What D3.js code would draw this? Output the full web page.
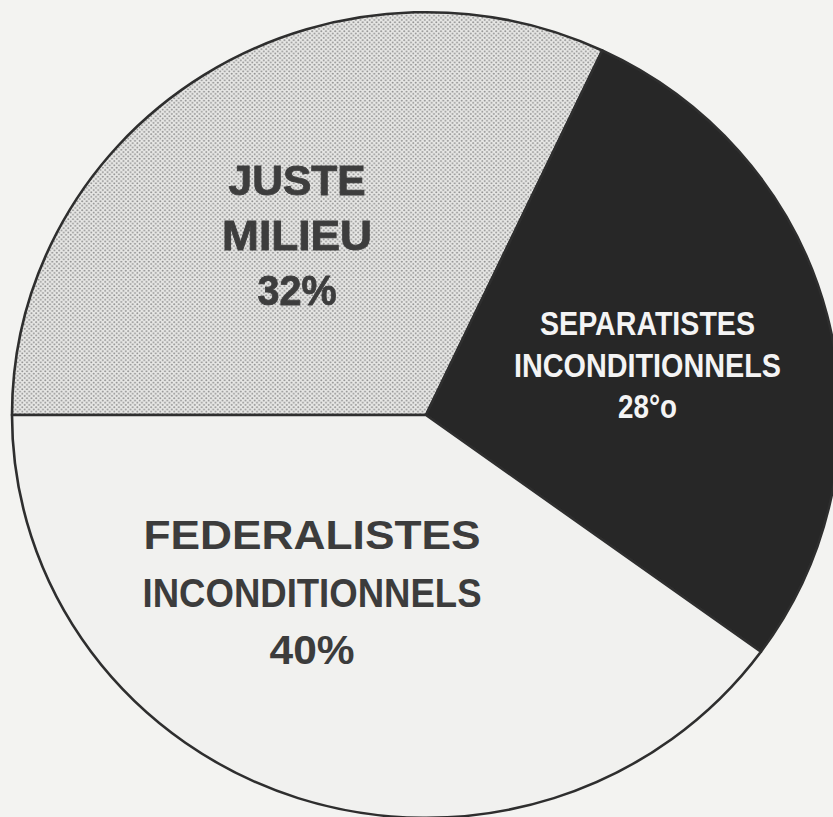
<!DOCTYPE html>
<html>
<head>
<meta charset="utf-8">
<script src="https://cdn.jsdelivr.net/npm/d3@7"></script>
<style>
  html, body { margin: 0; padding: 0; background: #f3f3f1; }
  svg { display: block; }
</style>
</head>
<body>
<script>
// opinion pie : juste milieu / separatistes / federalistes

var categories = ["JUSTE MILIEU", "SEPARATISTES INCONDITIONNELS", "FEDERALISTES INCONDITIONNELS"];
var values = [32, 28, 40];
var labelLines = [
  ["JUSTE", "MILIEU", "32%"],
  ["SEPARATISTES", "INCONDITIONNELS", "28°o"],
  ["FEDERALISTES", "INCONDITIONNELS", "40%"]
];

var w = 833, h = 817;
var cx = 426, cy = 415;
var R = 414;
var squash = 0.973;   // the scanned circle is a bit flatter than wide

// look of each slice / label
var fills = ["url(#dots)", "#272727", "#f1f1ef"];
var textColors = ["#3e3e3e", "#f4f4f4", "#3c3c3c"];
var textStrokes = [0.9, 0, 0];
var fontSizes = [43, 34, 41];
var lineGaps = [55, 41.5, 57.5];
var lineWidths = [[137, 150, 79], [215, 267, 59], [337, 339, 85]];
var nudges = [[-18, 5], [21, 12], [-50, 0]];

var svg = d3.select("body").append("svg")
  .attr("width", w)
  .attr("height", h);

// halftone dots for the grey slice
var defs = svg.append("defs");
var pat = defs.append("pattern")
  .attr("id", "dots")
  .attr("patternUnits", "userSpaceOnUse")
  .attr("width", 4.6)
  .attr("height", 4.6);
pat.append("rect").attr("width", 4.6).attr("height", 4.6).attr("fill", "#e8e8e6");
pat.append("circle").attr("cx", 1.15).attr("cy", 1.15).attr("r", 1.0).attr("fill", "#909090");
pat.append("circle").attr("cx", 3.45).attr("cy", 3.45).attr("r", 1.0).attr("fill", "#909090");

defs.append("filter").attr("id", "soft")
  .append("feGaussianBlur").attr("stdDeviation", 0.7);

var pie = d3.pie()
  .sort(null)
  .startAngle(-Math.PI / 2)
  .endAngle(1.5 * Math.PI)
  .value(function(d) { return d; });

var arc = d3.arc().innerRadius(0).outerRadius(R);
var labelArc = d3.arc().innerRadius(R * 0.5).outerRadius(R * 0.5);

var slices = pie(values);

var g = svg.append("g")
  .attr("transform", "translate(" + cx + "," + cy + ") scale(1," + squash + ")");

g.selectAll("path.slice")
  .data(slices)
  .enter()
  .append("path")
  .attr("class", "slice")
  .attr("d", arc)
  .attr("fill", function(d, i) { return fills[i]; })
  .attr("stroke", "#2e2e2e")
  .attr("stroke-width", 2.6)
  .attr("stroke-linejoin", "round");

// labels (outside the squashed group so letters keep their shape)
var labels = svg.selectAll("text.lab")
  .data(slices)
  .enter()
  .append("text")
  .attr("class", "lab")
  .attr("font-family", "'Liberation Sans', Arial, Helvetica, sans-serif")
  .attr("font-weight", "bold")
  .attr("text-anchor", "middle")
  .attr("font-size", function(d, i) { return fontSizes[i]; })
  .attr("fill", function(d, i) { return textColors[i]; })
  .attr("stroke", function(d, i) { return textStrokes[i] ? textColors[i] : null; })
  .attr("stroke-width", function(d, i) { return textStrokes[i] || null; })
  .attr("filter", function(d, i) { return i == 0 ? "url(#soft)" : null; })
  .attr("transform", function(d, i) {
    var c = labelArc.centroid(d);
    var x = cx + c[0] + nudges[i][0];
    var y = cy + c[1] * squash + nudges[i][1];
    return "translate(" + x + "," + y + ")";
  });

labels.each(function(d, i) {
  var t = d3.select(this);
  labelLines[i].forEach(function(line, k) {
    t.append("tspan")
      .attr("x", 0)
      .attr("y", (k - 1) * lineGaps[i])
      .attr("textLength", lineWidths[i][k])
      .attr("lengthAdjust", "spacingAndGlyphs")
      .text(line);
  });
});
</script>
</body>
</html>
